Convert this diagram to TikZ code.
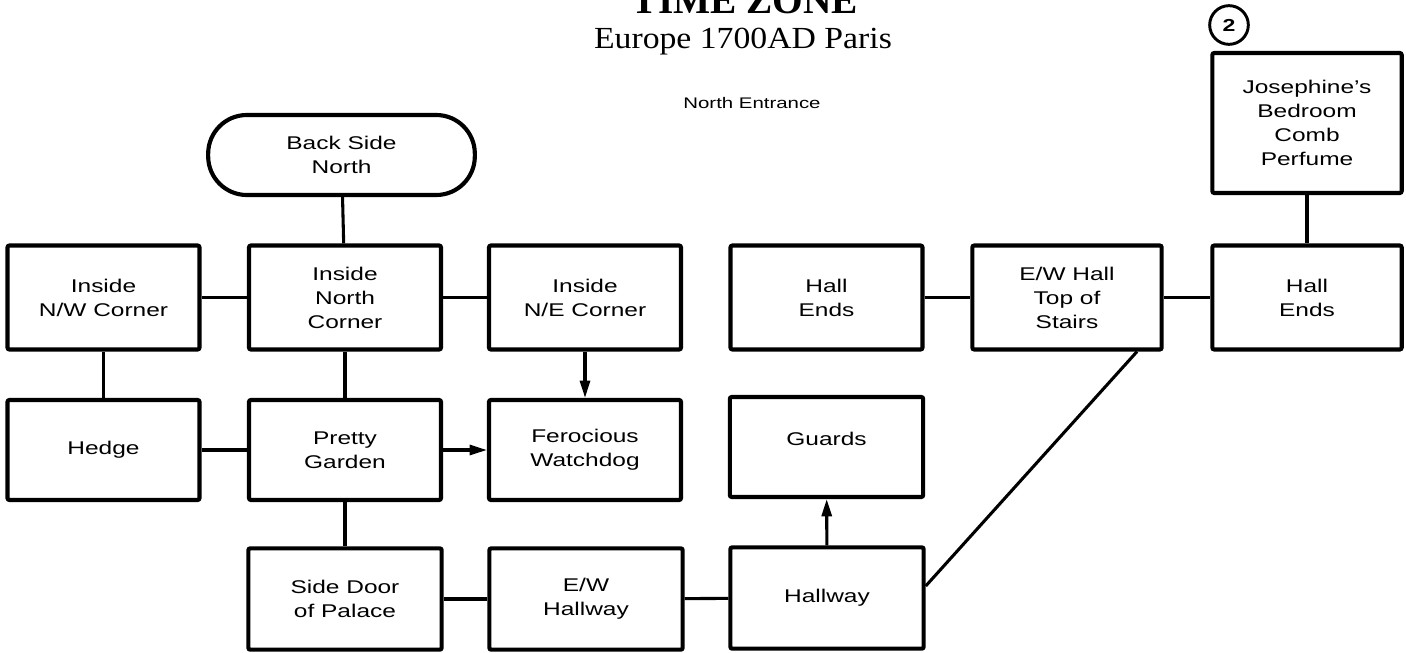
\documentclass[tikz,border=0pt]{standalone}
\usepackage{fontspec}
\setsansfont[FakeStretch=1.33]{Liberation Sans}
\newfontfamily\titlefont{Liberation Serif}
\newfontfamily\subfont[FakeStretch=1.1]{Liberation Serif}
\usetikzlibrary{arrows.meta,calc}
\begin{document}
\begin{tikzpicture}[x=0.75pt,y=-0.75pt,
  box/.style={draw, line width=3.1pt, rounded corners=1.5pt, align=center,
    font=\sffamily\fontsize{13.8}{18}\selectfont, inner sep=0pt},
  r1/.style={box, minimum width=144pt, minimum height=78pt},
  r2/.style={box, minimum width=144pt, minimum height=75pt},
  r3/.style={box, minimum width=145pt, minimum height=76pt},
  link/.style={line width=2.3pt},
  arr/.style={line width=2.3pt, -{Triangle[length=13pt,width=7.5pt]}}]
\clip (0,0) rectangle (1406,653);
\fill[white] (0,0) rectangle (1406,653);
% titles
\node[anchor=base, font=\titlefont\bfseries\fontsize{29.5}{32}\selectfont] (title) at (745,13) {TIME ZONE};
\node[anchor=base, font=\subfont\fontsize{23}{26}\selectfont] (sub) at (743,48) {Europe 1700AD Paris};
\node[anchor=base, font=\sffamily\fontsize{11.5}{14}\selectfont] (entr) at (752,108) {North Entrance};
% start
\node[box, minimum width=200pt, minimum height=60pt, rounded corners=29pt] (back) at (341.5,155) {Back Side\\North};
% row 1
\node[r1] (nw) at (103.5,297.5) {Inside\\N/W Corner};
\node[r1] (north) at (345,297.5) {Inside\\North\\Corner};
\node[r1] (ne) at (585,297.5) {Inside\\N/E Corner};
\node[r1] (hall1) at (826.5,297.5) {Hall\\Ends};
\node[r1, minimum width=142pt] (ewtop) at (1067,297.5) {E/W Hall\\Top of\\Stairs};
\node[r1, minimum width=142pt] (hall2) at (1307,297.5) {Hall\\Ends};
% josephine
\node[box, minimum width=142pt, minimum height=105pt] (jos) at (1307,123) {Josephine's\\Bedroom\\Comb\\Perfume};
\node[draw, circle, line width=2.2pt, minimum size=29pt, inner sep=0pt,
  font=\sffamily\bfseries\fontsize{13}{15}\selectfont] (two) at (1229,25) {2};
% row 2
\node[r2] (hedge) at (103.5,450) {Hedge};
\node[r2] (garden) at (345,450) {Pretty\\Garden};
\node[r2] (dog) at (585,450) {Ferocious\\Watchdog};
\node[box, minimum width=145pt, minimum height=75pt, text height=10pt, text depth=12pt] (guards) at (826.5,447) {Guards};
% row 3
\node[r3] (side) at (345,599) {Side Door\\of Palace};
\node[r3] (ewh) at (586,599) {E/W\\Hallway};
\node[r3] (hallway) at (827,598) {Hallway};
% links
\draw[link] (back) -- (north);
\draw[link] (nw) -- (north);
\draw[link] (north) -- (ne);
\draw[link] (nw) -- (hedge);
\draw[link] (north) -- (garden);
\draw[link] (hedge) -- (garden);
\draw[link] (garden) -- (side);
\draw[link] (side) -- (ewh);
\draw[link] (ewh) -- (hallway);
\draw[link] (hall1) -- (ewtop);
\draw[link] (ewtop) -- (hall2);
\draw[link] (hall2) -- (jos);
\draw[link] ($(hallway.east)+(0,-12)$) -- ($(ewtop.south)+(70,0)$);
\draw[arr] (ne) -- (dog);
\draw[arr] (garden) -- (dog);
\draw[arr] (hallway) -- (guards);
\end{tikzpicture}
\end{document}
